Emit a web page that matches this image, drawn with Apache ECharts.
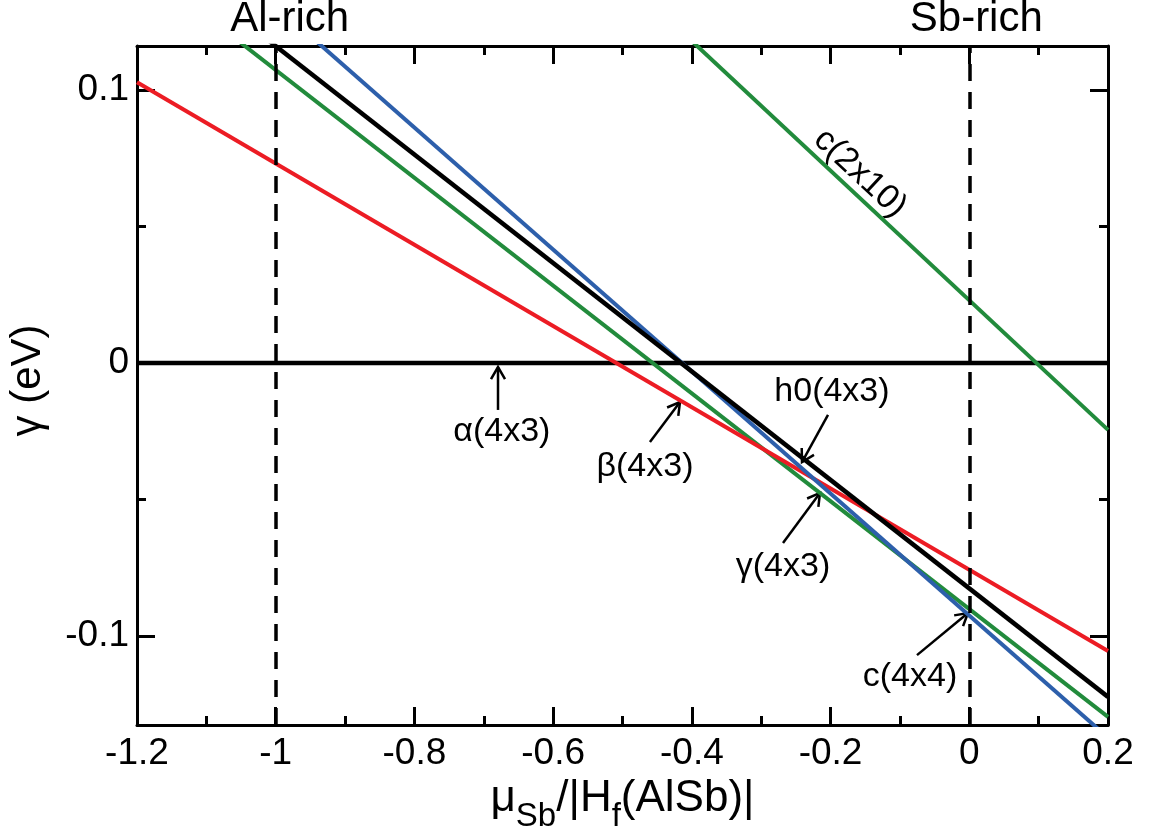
<!DOCTYPE html>
<html>
<head>
<meta charset="utf-8">
<script src="https://cdn.jsdelivr.net/npm/echarts@6/dist/echarts.min.js"></script>
<style>
  html, body { margin: 0; padding: 0; background: #fff; }
  #chart { width: 1150px; height: 835px; }
</style>
</head>
<body>
<div id="chart"></div>
<script>
// axis ranges / ticks
const xRange = [-1.2, 0.2];
const yRange = [-0.1326, 0.1161];
const yMajorTicks = [-0.1, 0, 0.1];
const yMinorTicks = [-0.05, 0.05];

// chemical potential limits (dashed lines)
const limitX = [-1, 0];
const limitNames = ['Al-rich', 'Sb-rich'];

// surface energy lines, endpoints [mu, gamma]
const alpha43 = [[-1.2, 0], [0.2, 0]];
const beta43 = [[-1.2, 0.1028], [0.2, -0.1055]];
const gamma43 = [[-1.2, 0.1468], [0.2, -0.1296]];
const c44 = [[-1.2, 0.1756], [0.2, -0.1372]];
const h043 = [[-1.2, 0.1558], [0.2, -0.1223]];
const c210 = [[-0.4, 0.1179], [0.2, -0.0245]];

// annotations: label, text centre, arrow tail, arrow head (data coords)
const annoNames = ['α(4x3)', 'β(4x3)', 'h0(4x3)', 'γ(4x3)', 'c(4x4)'];
const annoText = [[-0.674, -0.0253], [-0.4676, -0.0381], [-0.198, -0.0106], [-0.2686, -0.0747], [-0.0855, -0.115]];
const annoTail = [[-0.6795, -0.0172], [-0.4604, -0.0289], [-0.2037, -0.019], [-0.2686, -0.0659], [-0.0754, -0.107]];
const annoHead = [[-0.6795, -0.0015], [-0.4171, -0.0143], [-0.2412, -0.0363], [-0.2153, -0.0476], [-0.0019, -0.0916]];
const c210Label = { name: 'c(2x10)', at: [-0.1576, 0.0695] };

const FONT = 'Liberation Sans, Arial, Helvetica, sans-serif';
const chart = echarts.init(document.getElementById('chart'));

const frameLine = { show: true, onZero: false, lineStyle: { color: '#000', width: 3 } };
const noLine = { show: false, onZero: false };

function xAxisDef(pos, showLabel) {
  return {
    type: 'value', position: pos, min: xRange[0], max: xRange[1], interval: 0.2,
    axisLine: frameLine,
    axisTick: { show: true, inside: true, length: 18, lineStyle: { color: '#000', width: 3 } },
    minorTick: { show: true, splitNumber: 2, length: 9, lineStyle: { color: '#000', width: 3 } },
    splitLine: { show: false },
    axisLabel: { show: showLabel, margin: 10, color: '#000', fontFamily: FONT, fontSize: 37 }
  };
}

function yAxisDef(pos, ticks, len, showLine, showLabel) {
  return {
    type: 'value', position: pos, min: yRange[0], max: yRange[1],
    axisLine: showLine ? frameLine : noLine,
    axisTick: { show: true, inside: true, length: len, customValues: ticks, lineStyle: { color: '#000', width: 3 } },
    splitLine: { show: false },
    axisLabel: {
      show: showLabel, customValues: ticks, margin: 8, color: '#000', fontFamily: FONT, fontSize: 37,
      formatter: v => (Math.abs(v) < 1e-9 ? '0' : String(+v.toFixed(2)))
    }
  };
}

const xBottom = xAxisDef('bottom', true);
xBottom.name = '{m|μ}{s|Sb}{m|/|H}{s|f}{m|(AlSb)|}';
xBottom.nameLocation = 'middle';
xBottom.nameGap = 50;
xBottom.nameTextStyle = {
  color: '#000', fontFamily: FONT,
  rich: {
    m: { fontFamily: FONT, fontSize: 44, lineHeight: 50, verticalAlign: 'top', color: '#000' },
    s: { fontFamily: FONT, fontSize: 33, lineHeight: 33, padding: [24, 0, 0, 0], verticalAlign: 'top', color: '#000' }
  }
};

const yLeft = yAxisDef('left', yMajorTicks, 18, true, true);
yLeft.name = 'γ (eV)';
yLeft.nameLocation = 'middle';
yLeft.nameGap = 88;
yLeft.nameTextStyle = { color: '#000', fontFamily: FONT, fontSize: 42, padding: [0, 0, 0, 10] };

function lineSeries(data, color, width) {
  return {
    type: 'line', data: data, xAxisIndex: 0, yAxisIndex: 0, showSymbol: false, symbol: 'none',
    lineStyle: { color: color, width: width }, clip: true, silent: true, animation: false
  };
}

const zeroLine = lineSeries(alpha43, '#000', 4.5);
zeroLine.markLine = {
  symbol: 'none', silent: true, animation: false,
  lineStyle: { color: '#000', width: 3.5, type: [17, 11] },
  label: { show: true, position: 'end', distance: 6, formatter: '{b}', color: '#000', fontFamily: FONT, fontSize: 42 },
  data: limitX.map((x, i) => ({ xAxis: x, name: limitNames[i], label: { offset: [i === 0 ? 14 : 7, 0] } }))
};

const option = {
  backgroundColor: '#fff',
  animation: false,
  grid: { left: 137, right: 42, top: 46, bottom: 110, containLabel: false, outerBoundsMode: 'none' },
  xAxis: [xBottom, xAxisDef('top', false)],
  yAxis: [
    yLeft,
    yAxisDef('left', yMinorTicks, 9, false, false),
    yAxisDef('right', yMajorTicks, 18, true, false),
    yAxisDef('right', yMinorTicks, 9, false, false)
  ],
  series: [
    zeroLine,
    lineSeries(c210, '#228b3c', 4),
    lineSeries(gamma43, '#228b3c', 4),
    lineSeries(beta43, '#ec1c24', 4),
    lineSeries(c44, '#2d5fab', 4),
    lineSeries(h043, '#000', 4.5),
    {
      // arrows
      type: 'custom', xAxisIndex: 0, yAxisIndex: 0, silent: true, clip: false,
      data: annoTail.map((t, i) => [t[0], t[1], annoHead[i][0], annoHead[i][1]]),
      encode: { x: [0, 2], y: [1, 3] },
      renderItem: (params, api) => {
        const t = api.coord([api.value(0), api.value(1)]);
        const h = api.coord([api.value(2), api.value(3)]);
        const ang = Math.atan2(h[1] - t[1], h[0] - t[0]);
        const L = 14, a = Math.PI / 6;
        const p1 = [h[0] - L * Math.cos(ang - a), h[1] - L * Math.sin(ang - a)];
        const p2 = [h[0] - L * Math.cos(ang + a), h[1] - L * Math.sin(ang + a)];
        return {
          type: 'group', children: [
            { type: 'line', shape: { x1: t[0], y1: t[1], x2: h[0], y2: h[1] }, style: { stroke: '#000', lineWidth: 2.5 } },
            { type: 'polyline', shape: { points: [p1, h, p2] }, style: { stroke: '#000', lineWidth: 2.5, fill: null } }
          ]
        };
      }
    },
    {
      // annotation texts
      type: 'custom', xAxisIndex: 0, yAxisIndex: 0, silent: true, clip: false,
      data: annoText.map((p, i) => [p[0], p[1], 0, i]).concat([[c210Label.at[0], c210Label.at[1], -43, -1]]),
      renderItem: (params, api) => {
        const p = api.coord([api.value(0), api.value(1)]);
        const idx = api.value(3);
        const txt = idx < 0 ? c210Label.name : annoNames[idx];
        return {
          type: 'text', x: p[0], y: p[1], rotation: api.value(2) * Math.PI / 180,
          style: { text: txt, fill: '#000', font: '34px ' + FONT, align: 'center', verticalAlign: 'middle' }
        };
      }
    }
  ]
};

chart.setOption(option);
</script>
</body>
</html>
